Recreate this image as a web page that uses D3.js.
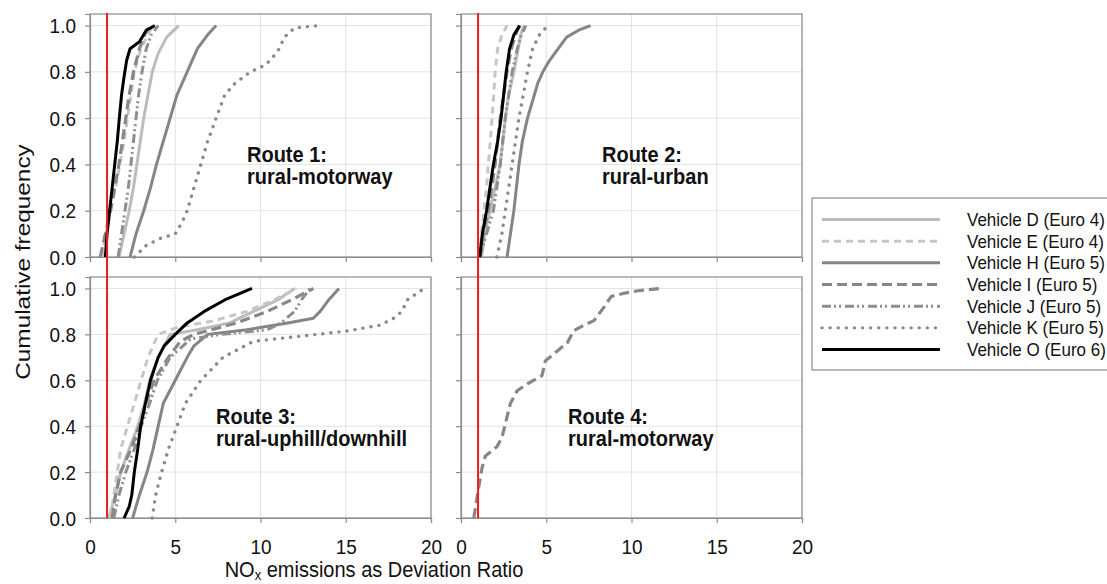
<!DOCTYPE html>
<html>
<head>
<meta charset="utf-8">
<script src="https://cdn.jsdelivr.net/npm/d3@7"></script>
<style>
  html, body { margin: 0; padding: 0; background: #fff; }
  svg { display: block; font-family: "Liberation Sans", Arial, sans-serif; }
</style>
</head>
<body>
<svg id="chart" width="1107" height="584"></svg>
<script>
// Cumulative frequency curves: [deviation ratio, cumulative frequency]
const vehicles = ["D", "E", "H", "I", "J", "K", "O"];
const vehicleLabels = ["Vehicle D (Euro 4)", "Vehicle E (Euro 4)", "Vehicle H (Euro 5)",
  "Vehicle I (Euro 5)", "Vehicle J (Euro 5)", "Vehicle K (Euro 5)", "Vehicle O (Euro 6)"];

const route1 = {
  D: [[1.7,0],[2.0,0.1],[2.3,0.2],[2.55,0.3],[2.75,0.4],[2.95,0.5],[3.15,0.6],[3.4,0.7],[3.65,0.8],[4.0,0.88],[4.5,0.95],[5.2,1.0]],
  E: [[0.7,0],[0.95,0.1],[1.2,0.2],[1.5,0.3],[1.75,0.4],[2.0,0.5],[2.2,0.6],[2.4,0.7],[2.6,0.8],[2.9,0.88],[3.3,0.95],[3.7,1.0]],
  H: [[2.35,0],[2.7,0.1],[3.15,0.2],[3.55,0.3],[3.9,0.4],[4.3,0.5],[4.7,0.6],[5.1,0.7],[5.7,0.8],[6.3,0.9],[6.9,0.96],[7.4,1.0]],
  I: [[0.6,0],[0.9,0.1],[1.2,0.2],[1.45,0.3],[1.7,0.4],[1.9,0.5],[2.1,0.6],[2.3,0.7],[2.55,0.8],[2.9,0.9],[3.2,0.96],[3.5,1.0]],
  J: [[1.65,0],[1.85,0.1],[2.05,0.2],[2.25,0.3],[2.4,0.4],[2.55,0.5],[2.7,0.6],[2.85,0.7],[3.05,0.8],[3.3,0.9],[3.6,0.96],[4.0,1.0]],
  K: [[2.6,0],[3.3,0.05],[4.1,0.08],[5.0,0.1],[5.4,0.15],[5.7,0.2],[6.1,0.3],[6.5,0.4],[6.9,0.5],[7.4,0.6],[7.9,0.7],[8.5,0.75],[9.4,0.8],[10.3,0.83],[10.8,0.87],[11.1,0.9],[11.4,0.95],[12.0,0.99],[13.4,1.0]],
  O: [[0.9,0],[1.0,0.1],[1.15,0.2],[1.3,0.3],[1.45,0.4],[1.6,0.5],[1.72,0.6],[1.85,0.7],[2.0,0.78],[2.15,0.85],[2.35,0.9],[2.9,0.93],[3.3,0.98],[3.8,1.0]]
};

const route2 = {
  D: [[1.2,0],[1.4,0.1],[1.7,0.2],[2.0,0.3],[2.3,0.4],[2.45,0.5],[2.6,0.6],[2.8,0.7],[3.1,0.8],[3.35,0.9],[3.5,0.96],[3.7,1.0]],
  E: [[1.1,0],[1.2,0.1],[1.35,0.2],[1.5,0.3],[1.6,0.4],[1.72,0.5],[1.82,0.6],[1.92,0.7],[2.0,0.8],[2.15,0.9],[2.4,0.96],[2.7,1.0]],
  H: [[2.7,0],[2.9,0.1],[3.1,0.2],[3.25,0.3],[3.4,0.4],[3.6,0.5],[3.9,0.6],[4.3,0.7],[4.5,0.75],[4.8,0.8],[5.2,0.85],[5.7,0.9],[6.2,0.95],[6.9,0.98],[7.6,1.0]],
  I: [[1.1,0],[1.3,0.1],[1.6,0.2],[1.8,0.3],[2.0,0.4],[2.15,0.5],[2.3,0.6],[2.5,0.7],[2.7,0.8],[2.95,0.9],[3.2,0.96],[3.4,1.0]],
  J: [[1.1,0],[1.5,0.1],[1.9,0.2],[2.1,0.3],[2.3,0.4],[2.45,0.5],[2.6,0.6],[2.8,0.7],[3.0,0.8],[3.3,0.9],[3.55,0.96],[3.8,1.0]],
  K: [[2.1,0],[2.4,0.1],[2.6,0.2],[2.8,0.3],[3.0,0.4],[3.2,0.5],[3.4,0.6],[3.65,0.7],[3.9,0.8],[4.2,0.9],[4.6,0.96],[5.1,1.0]],
  O: [[1.1,0],[1.25,0.1],[1.5,0.2],[1.7,0.3],[1.9,0.4],[2.15,0.5],[2.35,0.6],[2.5,0.7],[2.65,0.8],[2.85,0.9],[3.1,0.96],[3.45,1.0]]
};

const route3 = {
  D: [[1.1,0],[1.5,0.1],[1.8,0.2],[2.3,0.3],[2.8,0.4],[3.2,0.5],[3.5,0.6],[4.0,0.7],[4.7,0.8],[6.3,0.82],[8.2,0.85],[9.6,0.9],[11.0,0.95],[12.0,1.0]],
  E: [[1.2,0],[1.4,0.1],[1.6,0.2],[1.8,0.3],[2.2,0.4],[2.6,0.5],[3.0,0.6],[3.4,0.7],[4.0,0.8],[5.1,0.83],[7.3,0.86],[9.2,0.9],[10.8,0.95],[12.1,1.0]],
  H: [[2.5,0],[2.9,0.1],[3.35,0.2],[3.7,0.3],[4.0,0.4],[4.3,0.5],[5.0,0.6],[5.7,0.7],[6.1,0.75],[6.9,0.8],[9.2,0.82],[11.6,0.85],[13.1,0.87],[13.5,0.9],[14.0,0.95],[14.6,1.0]],
  I: [[1.3,0],[1.5,0.1],[1.8,0.2],[2.4,0.3],[2.9,0.4],[3.3,0.5],[3.75,0.6],[4.6,0.7],[5.3,0.77],[6.1,0.8],[8.6,0.85],[10.4,0.9],[11.8,0.95],[13.1,1.0]],
  J: [[1.4,0],[1.7,0.1],[2.1,0.2],[2.6,0.3],[3.0,0.4],[3.5,0.5],[3.95,0.6],[4.7,0.7],[5.9,0.78],[7.7,0.8],[10.4,0.82],[11.2,0.85],[12.0,0.9],[12.4,0.95],[12.9,1.0]],
  K: [[3.65,0],[3.85,0.1],[4.2,0.2],[4.6,0.3],[5.1,0.4],[5.6,0.5],[6.5,0.6],[7.8,0.7],[9.6,0.77],[12.1,0.79],[15.1,0.815],[17.0,0.84],[17.8,0.87],[18.3,0.9],[18.6,0.95],[19.6,1.0]],
  O: [[2.0,0],[2.3,0.05],[2.45,0.1],[2.6,0.2],[2.8,0.3],[2.97,0.4],[3.25,0.5],[3.55,0.6],[4.0,0.7],[4.35,0.75],[5.0,0.8],[5.7,0.85],[6.7,0.9],[7.9,0.95],[9.5,1.0]]
};

const route4 = {
  I: [[0.75,0],[1.04,0.135],[1.24,0.22],[1.43,0.27],[2.1,0.31],[2.4,0.35],[2.9,0.5],[3.3,0.555],[3.9,0.585],[4.75,0.62],[4.95,0.685],[5.45,0.715],[6.25,0.765],[6.6,0.815],[7.2,0.84],[7.8,0.86],[8.4,0.92],[8.8,0.965],[9.6,0.98],[10.4,0.99],[11.7,1.0]]
};

const routeTitles = [["Route 1:", "rural-motorway"], ["Route 2:", "rural-urban"],
  ["Route 3:", "rural-uphill/downhill"], ["Route 4:", "rural-motorway"]];
const xTicks = [0, 5, 10, 15, 20];
const yTicks = [0, 0.2, 0.4, 0.6, 0.8, 1.0];
const limitRatio = 1; // conformity factor line

// Line styles per vehicle
const styles = {
  D: { color: "#bcbcbc", width: 3, dash: null, cap: "butt" },
  E: { color: "#c6c6c6", width: 3, dash: "7,5", cap: "butt" },
  H: { color: "#858585", width: 3, dash: null, cap: "butt" },
  I: { color: "#878787", width: 3.2, dash: "10,5", cap: "butt" },
  J: { color: "#8e8e8e", width: 3, dash: "9,3,2,3,2,4", cap: "butt" },
  K: { color: "#8a8a8a", width: 3.4, dash: "0.1,8", cap: "round" },
  O: { color: "#000000", width: 3, dash: null, cap: "butt" }
};

// glyphs are drawn slightly taller than wide
const TEXT_STRETCH = 1.1;
const FONT = "'Liberation Sans', Arial, sans-serif";

const svg = d3.select("#chart");

const panels = [
  { data: route1, x0: 90, x1: 431, top: 14, bottom: 257, xLabels: false, yLabels: true, title: routeTitles[0], tx: 247, ty: 162 },
  { data: route2, x0: 461, x1: 802, top: 14, bottom: 257, xLabels: false, yLabels: false, title: routeTitles[1], tx: 602, ty: 162 },
  { data: route3, x0: 90, x1: 431, top: 277, bottom: 518, xLabels: true, yLabels: true, title: routeTitles[2], tx: 216, ty: 424 },
  { data: route4, x0: 461, x1: 802, top: 277, bottom: 518, xLabels: true, yLabels: false, title: routeTitles[3], tx: 568, ty: 424 }
];

panels.forEach(p => {
  const x = d3.scaleLinear().domain([0, 20]).range([p.x0, p.x1]);
  const y = d3.scaleLinear().domain([0, 1.05]).range([p.bottom, p.top]);
  const g = svg.append("g");

  // grid
  g.selectAll(".gx").data(xTicks.slice(1)).enter().append("line")
    .attr("x1", d => x(d)).attr("x2", d => x(d)).attr("y1", p.top).attr("y2", p.bottom)
    .attr("stroke", "#e2e2e2").attr("stroke-width", 1);
  g.selectAll(".gy").data(yTicks.slice(1)).enter().append("line")
    .attr("x1", p.x0).attr("x2", p.x1).attr("y1", d => y(d)).attr("y2", d => y(d))
    .attr("stroke", "#e2e2e2").attr("stroke-width", 1);

  // frame
  g.append("rect").attr("x", p.x0).attr("y", p.top)
    .attr("width", p.x1 - p.x0).attr("height", p.bottom - p.top)
    .attr("fill", "none").attr("stroke", "#8c8c8c").attr("stroke-width", 1.2);

  // axes
  const xAxis = d3.axisBottom(x).tickValues(xTicks).tickSize(5)
    .tickFormat(p.xLabels ? d3.format("d") : () => "");
  const ax = g.append("g").attr("transform", `translate(0,${p.bottom})`).call(xAxis);
  const yAxis = d3.axisLeft(y).tickValues(yTicks).tickSize(5)
    .tickFormat(p.yLabels ? d3.format(".1f") : () => "");
  const ay = g.append("g").attr("transform", `translate(${p.x0},0)`).call(yAxis);
  [ax, ay].forEach(a => {
    a.select(".domain").attr("stroke", "#8c8c8c").attr("stroke-width", 1.2);
    a.selectAll(".tick line").attr("stroke", "#8c8c8c").attr("stroke-width", 1.2);
    a.selectAll(".tick text").attr("fill", "#111").style("font-size", "19px")
      .style("font-family", FONT);
  });
  ax.selectAll(".tick text").attr("y", 0).attr("dy", null)
    .attr("transform", `translate(0,36) scale(1,${TEXT_STRETCH})`);
  ay.selectAll(".tick text").attr("x", 0).attr("dy", "0.34em")
    .attr("transform", `translate(-14,0) scale(1,${TEXT_STRETCH})`);

  // curves
  const line = d3.line().x(d => x(d[0])).y(d => y(d[1]));
  vehicles.filter(v => p.data[v]).forEach(v => {
    const s = styles[v];
    g.append("path").datum(p.data[v]).attr("d", line)
      .attr("fill", "none").attr("stroke", s.color).attr("stroke-width", s.width)
      .attr("stroke-dasharray", s.dash).attr("stroke-linecap", s.cap)
      .attr("stroke-linejoin", "round");
  });

  // route label
  const t = g.append("text")
    .attr("transform", `translate(${p.tx},${p.ty}) scale(1,${TEXT_STRETCH})`)
    .style("font-size", "20px").style("font-weight", "bold").attr("fill", "#111");
  t.append("tspan").attr("x", 0).text(p.title[0]);
  t.append("tspan").attr("x", 0).attr("dy", 20).text(p.title[1]);
});

// limit line at deviation ratio 1, spanning both rows
[[90, 431], [461, 802]].forEach(([a, b]) => {
  const x = d3.scaleLinear().domain([0, 20]).range([a, b]);
  svg.append("line").attr("x1", x(limitRatio)).attr("x2", x(limitRatio))
    .attr("y1", 13).attr("y2", 518).attr("stroke", "#ee1c1c").attr("stroke-width", 2);
});

// axis titles
svg.append("text").attr("transform", `translate(30,262) rotate(-90) scale(1.16,1)`)
  .attr("text-anchor", "middle").style("font-size", "21px").attr("fill", "#111")
  .text("Cumulative frequency");
const xt = svg.append("text")
  .attr("transform", `translate(374,577) scale(1,${TEXT_STRETCH})`)
  .attr("text-anchor", "middle").style("font-size", "20px").attr("fill", "#111");
xt.append("tspan").text("NO");
xt.append("tspan").attr("dy", 3).style("font-size", "13px").text("x");
xt.append("tspan").attr("dy", -3).text(" emissions as Deviation Ratio");

// legend
const legend = svg.append("g");
legend.append("rect").attr("x", 812).attr("y", 198).attr("width", 320).attr("height", 172)
  .attr("fill", "#fff").attr("stroke", "#8c8c8c").attr("stroke-width", 1.2);
const rowY = d3.scalePoint().domain(vehicles).range([219.5, 349.5]);
vehicles.forEach((v, i) => {
  const s = styles[v];
  legend.append("line").attr("x1", 822).attr("x2", 940).attr("y1", rowY(v)).attr("y2", rowY(v))
    .attr("stroke", s.color).attr("stroke-width", s.width)
    .attr("stroke-dasharray", s.dash).attr("stroke-linecap", s.cap);
  legend.append("text")
    .attr("transform", `translate(967,${rowY(v)}) scale(1,${TEXT_STRETCH})`)
    .attr("dy", "0.35em")
    .style("font-size", "17px").attr("fill", "#111").text(vehicleLabels[i]);
});
</script>
</body>
</html>
